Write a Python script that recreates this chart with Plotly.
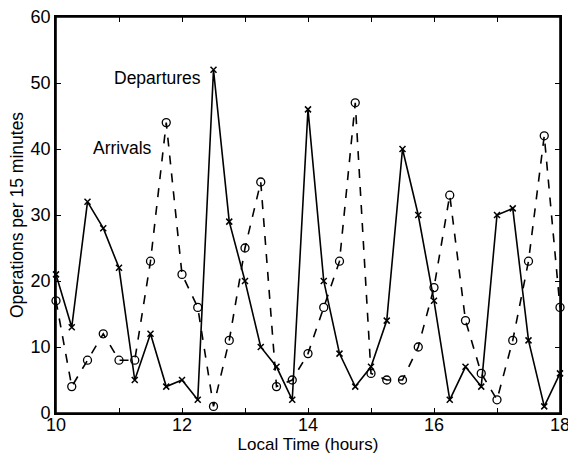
import plotly.graph_objects as go

times = [10 + 0.25 * i for i in range(33)]
departures = [21, 13, 32, 28, 22, 5, 12, 4, 5, 2, 52, 29, 20, 10, 7, 2, 46, 20, 9, 4, 7, 14,
              40, 30, 17, 2, 7, 4, 30, 31, 11, 1, 6]
arrivals = [17, 4, 8, 12, 8, 8, 23, 44, 21, 16, 1, 11, 25, 35, 4, 5, 9, 16, 23, 47, 6, 5,
            5, 10, 19, 33, 14, 6, 2, 11, 23, 42, 16]
x_tickvals = [10, 11, 12, 13, 14, 15, 16, 17, 18]
x_ticktext = ["10", "", "12", "", "14", "", "16", "", "18"]
y_tickvals = [0, 10, 20, 30, 40, 50, 60]

FONT = "Liberation Sans, Arial, Helvetica, sans-serif"

fig = go.Figure()
fig.add_trace(go.Scatter(
    x=times, y=departures, mode="lines+markers", name="Departures",
    line=dict(color="black", width=1.6),
    marker=dict(symbol="x-thin", size=6, color="black", line=dict(color="black", width=1.5)),
    cliponaxis=False,
))
fig.add_trace(go.Scatter(
    x=times, y=arrivals, mode="lines+markers", name="Arrivals",
    line=dict(color="black", width=1.6, dash="dash"),
    marker=dict(symbol="circle-open", size=8, color="black", line=dict(color="black", width=1.3)),
    cliponaxis=False,
))

fig.add_annotation(x=12.33, y=50.8, text="Departures", showarrow=False, xanchor="right",
                   yanchor="middle", font=dict(family=FONT, size=17.5, color="black"))
fig.add_annotation(x=11.55, y=40.2, text="Arrivals", showarrow=False, xanchor="right",
                   yanchor="middle", font=dict(family=FONT, size=17.5, color="black"))

# axes frame
fig.add_shape(type="rect", xref="paper", yref="paper", x0=0, y0=0, x1=1, y1=1,
              line=dict(color="black", width=1.6), layer="above")

axis_common = dict(showline=True, linecolor="black", linewidth=1.6, mirror="ticks",
                   ticks="inside", ticklen=5, tickcolor="black", tickwidth=1.2,
                   showgrid=False, zeroline=False, automargin=False,
                   ticklabeloverflow="allow",
                   tickfont=dict(family=FONT, size=18, color="black"))

fig.update_xaxes(range=[10, 18], tickmode="array", tickvals=x_tickvals, ticktext=x_ticktext,
                 ticklabelstandoff=-5,
                 title=dict(text="Local Time (hours)", font=dict(family=FONT, size=17, color="black"),
                            standoff=10),
                 **axis_common)
fig.update_yaxes(range=[0, 60], tickmode="array", tickvals=y_tickvals,
                 title=dict(text="Operations per 15 minutes", font=dict(family=FONT, size=17.5, color="black"),
                            standoff=2),
                 **axis_common)

fig.update_layout(
    width=568, height=454,
    margin=dict(l=56, r=8, t=17, b=41),
    plot_bgcolor="white", paper_bgcolor="white",
    showlegend=False,
)

fig.write_html(
    "out.html",
    config={"displayModeBar": False},
    post_script="document.body.style.margin='0';document.body.style.overflow='hidden';",
)
